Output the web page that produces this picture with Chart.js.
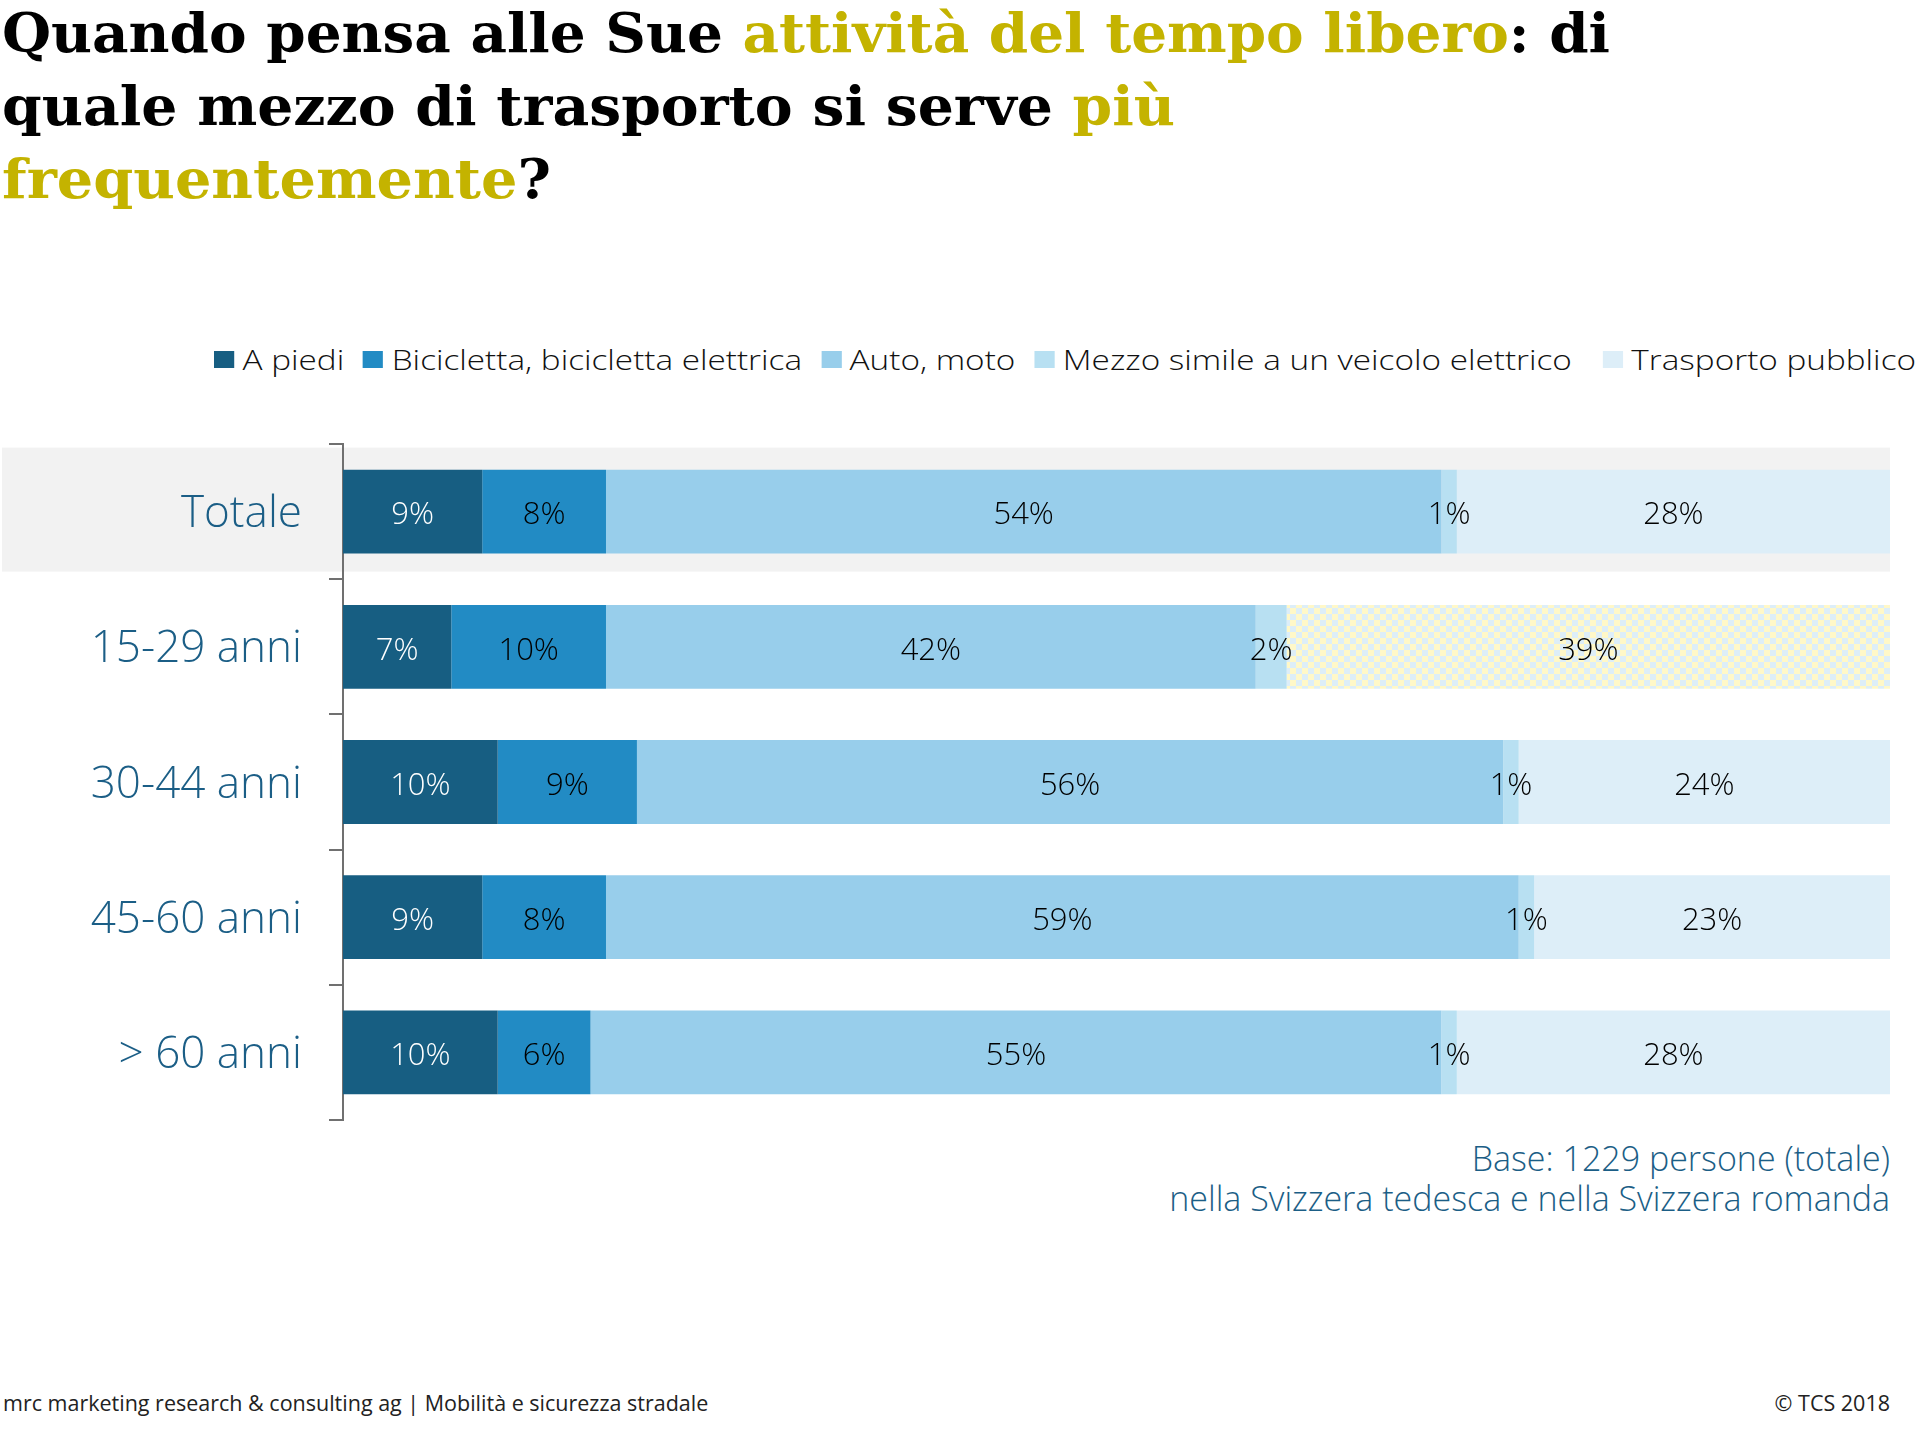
<!DOCTYPE html>
<html lang="it">
<head>
<meta charset="utf-8">
<script src="https://cdn.jsdelivr.net/npm/chart.js@4.4.1/dist/chart.umd.min.js"></script>
<style>
  html, body { margin: 0; padding: 0; background: #ffffff; }
  body { width: 1920px; height: 1431px; position: relative; overflow: hidden; font-family: "Open Sans", Lato, sans-serif; }
  .title { position: absolute; left: 2px; top: -4px; font-family: "DejaVu Serif", serif; font-weight: bold; font-size: 55px; line-height: 73px; color: #000; }
  .title div { white-space: nowrap; transform-origin: 0 0; width: max-content; }
  .gold { color: #c4b300; }
  #legend { position: absolute; left: 214px; top: 340px; height: 38px; display: flex; align-items: center; font-size: 28px; font-weight: 300; color: #111; white-space: nowrap; transform-origin: 0 50%; width: max-content; }
  #legend .item { display: flex; align-items: center; white-space: nowrap; margin-right: 16px; }
  #legend .item:nth-child(4) { margin-right: 26px; }
  #legend .item:last-child { margin-right: 0; }
  #legend .sw { width: 17px; height: 17px; margin-right: 7px; margin-top: 1px; }
  #chartWrap { position: absolute; left: 0; top: 434px; width: 1900px; height: 696px; }
  .base { position: absolute; right: 30px; top: 1138px; text-align: right; font-size: 34px; font-weight: 300; line-height: 40px; color: #1b5e86; white-space: nowrap; }
  .foot { position: absolute; top: 1388px; font-size: 21.5px; font-weight: 400; color: #222; white-space: nowrap; }
</style>
</head>
<body>
<div class="title">
  <div data-w="1608">Quando pensa alle Sue <span class="gold">attività del tempo libero</span>: di</div>
  <div data-w="1173">quale mezzo di trasporto si serve <span class="gold">più</span></div>
  <div data-w="549"><span class="gold">frequentemente</span>?</div>
</div>
<div id="legend"></div>
<div id="chartWrap"><canvas id="c" width="1900" height="696"></canvas></div>
<div class="base">Base: 1229 persone (totale)<br>nella Svizzera tedesca e nella Svizzera romanda</div>
<div class="foot" style="left:3px;">mrc marketing research &amp; consulting ag | Mobilità e sicurezza stradale</div>
<div class="foot" style="right:30px;">© TCS 2018</div>
<script>
// ---- Data ----
const categories = ['Totale', '15-29 anni', '30-44 anni', '45-60 anni', '> 60 anni'];
const seriesNames = ['A piedi', 'Bicicletta, bicicletta elettrica', 'Auto, moto', 'Mezzo simile a un veicolo elettrico', 'Trasporto pubblico'];
const aPiedi = [9, 7, 10, 9, 10];
const bicicletta = [8, 10, 9, 8, 6];
const autoMoto = [54, 42, 56, 59, 55];
const mezzoElettrico = [1, 2, 1, 1, 1];
const trasportoPubblico = [28, 39, 24, 23, 28];

// ---- Styles ----
const seriesColors = ['#175e82', '#228bc4', '#98ceeb', '#b8e0f2', '#ddeef8'];
const labelColors = ['#ffffff', '#000000', '#000000', '#000000', '#000000'];

// fit title lines
document.querySelectorAll('.title div').forEach(d => {
  const target = parseFloat(d.dataset.w);
  const w = d.getBoundingClientRect().width;
  if (w > 0) d.style.transform = 'scaleX(' + (target / w) + ')';
});

// legend
const legend = document.getElementById('legend');
seriesNames.forEach((n, i) => {
  const it = document.createElement('div');
  it.className = 'item';
  const sw = document.createElement('span');
  sw.className = 'sw';
  sw.style.background = seriesColors[i];
  const tx = document.createElement('span');
  tx.textContent = n;
  it.appendChild(sw); it.appendChild(tx);
  legend.appendChild(it);
});
(function fitLegend() {
  const w = legend.getBoundingClientRect().width;
  if (w > 0) legend.style.transform = 'scaleX(' + (1702 / w) + ')';
})();

// checker pattern for highlighted segment
function makeChecker() {
  const p = document.createElement('canvas');
  p.width = 12; p.height = 12;
  const g = p.getContext('2d');
  g.fillStyle = '#ddeef8'; g.fillRect(0, 0, 12, 12);
  g.fillStyle = '#fff8c8'; g.fillRect(0, 0, 6, 6); g.fillRect(6, 6, 6, 6);
  return document.getElementById('c').getContext('2d').createPattern(p, 'repeat');
}
const checker = makeChecker();
const trasportoColors = trasportoPubblico.map((v, i) => i === 1 ? checker : seriesColors[4]);

const seriesValues = [aPiedi, bicicletta, autoMoto, mezzoElettrico, trasportoPubblico];
const datasets = seriesValues.map((vals, i) => ({
  label: seriesNames[i],
  data: vals,
  backgroundColor: i === 4 ? trasportoColors : seriesColors[i],
  borderWidth: 0,
  barPercentage: 0.62,
  categoryPercentage: 1
}));

const bandPlugin = {
  id: 'band',
  beforeDraw(chart) {
    const y = chart.scales.y;
    const c = y.getPixelForValue(0);
    const ctx = chart.ctx;
    ctx.save();
    ctx.fillStyle = '#f2f2f2';
    ctx.fillRect(2, c - 64, chart.chartArea.right - 2, 124);
    ctx.restore();
  }
};

const labelPlugin = {
  id: 'vals',
  afterDatasetsDraw(chart) {
    const ctx = chart.ctx;
    ctx.save();
    ctx.font = '300 31px "Open Sans", Lato, sans-serif';
    ctx.textAlign = 'center';
    ctx.textBaseline = 'middle';
    chart.data.datasets.forEach((ds, i) => {
      const meta = chart.getDatasetMeta(i);
      meta.data.forEach((el, j) => {
        const cx = (el.x + el.base) / 2;
        ctx.fillStyle = labelColors[i];
        ctx.fillText(ds.data[j] + '%', cx, el.y + 4);
      });
    });
    ctx.restore();
  }
};

new Chart(document.getElementById('c'), {
  type: 'bar',
  data: { labels: categories, datasets },
  options: {
    indexAxis: 'y',
    responsive: false,
    animation: false,
    layout: { padding: { top: 10, bottom: 10, right: 10, left: 0 } },
    plugins: { legend: { display: false }, tooltip: { enabled: false }, title: { display: false } },
    scales: {
      x: { stacked: true, min: 0, max: 100, display: false },
      y: {
        stacked: true,
        grid: { display: true, drawOnChartArea: false, drawTicks: true, tickLength: 14, color: '#707070', lineWidth: 2, offset: true },
        border: { display: true, color: '#707070', width: 2 },
        ticks: { color: '#1b5e86', padding: 27, labelOffset: 3, font: { family: '"Open Sans", Lato, sans-serif', size: 44, weight: '300' } },
        afterFit(scale) { scale.width = 343; scale.paddingTop = 0; scale.paddingBottom = 0; }
      }
    }
  },
  plugins: [bandPlugin, labelPlugin]
});
</script>
</body>
</html>
